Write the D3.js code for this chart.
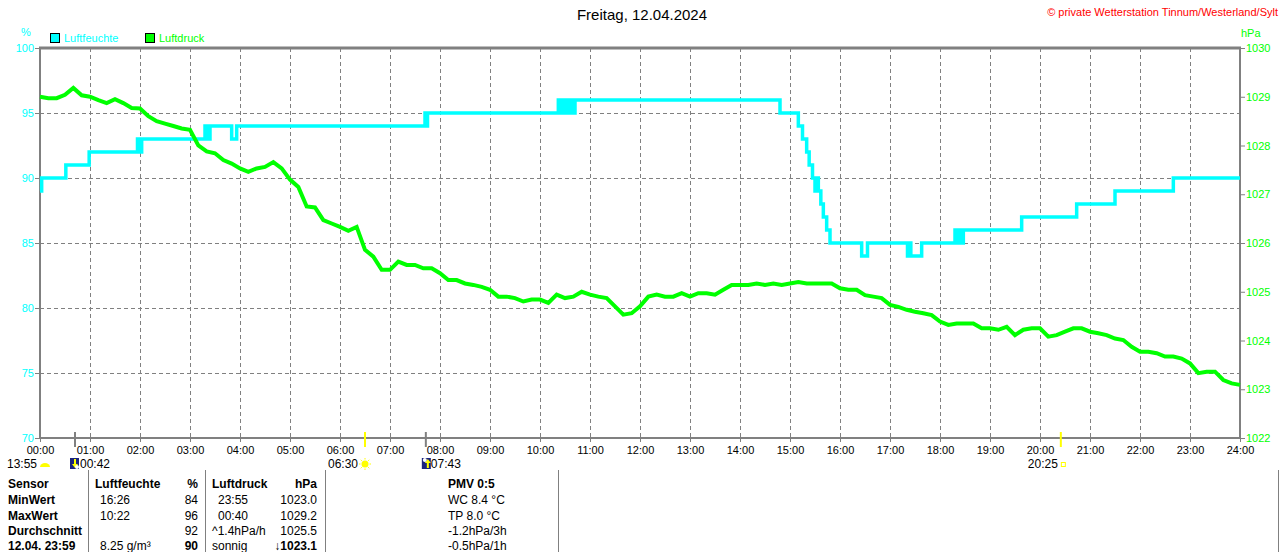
<!DOCTYPE html>
<html>
<head>
<meta charset="utf-8">
<script src="https://cdn.jsdelivr.net/npm/d3@7"></script>
<style>
  body { margin: 0; background: #fff; }
  svg text { font-family: "Liberation Sans", Arial, sans-serif; }
</style>
</head>
<body>
<div id="chart"></div>
<script>
// Tageskurve Luftfeuchte / Luftdruck, 12.04.2024

const title = 'Freitag, 12.04.2024';
const copyright = '\u00A9 private Wetterstation Tinnum/Westerland/Sylt';

// x axis: minutes of the day
const hourTicks = d3.range(0, 1441, 60);
const hourLabels = ['00:00','01:00','02:00','03:00','04:00','05:00','06:00','07:00','08:00','09:00','10:00','11:00',
  '12:00','13:00','14:00','15:00','16:00','17:00','18:00','19:00','20:00','21:00','22:00','23:00','24:00'];

const humTicks = [70, 75, 80, 85, 90, 95, 100];
const pressTicks = [1022, 1023, 1024, 1025, 1026, 1027, 1028, 1029, 1030];

// Luftfeuchte (%) — change points [minute, value]
const humTimes = [0, 2, 31, 59, 117, 118, 119, 121, 122, 198, 199, 201, 203, 204, 230, 236, 462, 463, 465,
  622, 624, 626, 628, 631, 634, 638, 640, 642, 888, 910, 915, 920, 923, 927, 930, 932, 934, 937, 940, 944, 948,
  986, 993, 1041, 1043, 1045, 1058, 1098, 1101, 1104, 1106, 1108, 1178, 1244, 1290, 1360, 1440];
const humValues = [89, 90, 91, 92, 93, 92, 93, 92, 93, 94, 93, 94, 93, 94, 93, 94, 95, 94, 95,
  96, 95, 96, 95, 96, 95, 96, 95, 96, 95, 94, 93, 92, 91, 90, 89, 90, 89, 88, 87, 86, 85,
  84, 85, 84, 85, 84, 85, 86, 85, 86, 85, 86, 87, 88, 89, 90, 90];

// Luftdruck (hPa) — every 10 minutes from 00:00 to 24:00
const pressStep = 10;
const pressValues = [
  1029.00, 1028.97, 1028.97, 1029.04, 1029.18, 1029.03, 1029.00, 1028.93, 1028.87, 1028.95, 1028.87, 1028.77,
  1028.76, 1028.60, 1028.50, 1028.45, 1028.40, 1028.35, 1028.32, 1028.00, 1027.88, 1027.84, 1027.70, 1027.63,
  1027.53, 1027.46, 1027.53, 1027.56, 1027.66, 1027.53, 1027.30, 1027.15, 1026.75, 1026.73, 1026.47, 1026.40,
  1026.33, 1026.25, 1026.33, 1025.86, 1025.72, 1025.45, 1025.45, 1025.62, 1025.55, 1025.55, 1025.48, 1025.48,
  1025.38, 1025.24, 1025.24, 1025.17, 1025.14, 1025.10, 1025.04, 1024.90, 1024.90, 1024.87, 1024.80, 1024.84,
  1024.84, 1024.77, 1024.94, 1024.87, 1024.90, 1025.00, 1024.94, 1024.90, 1024.87, 1024.70, 1024.53, 1024.56,
  1024.70, 1024.90, 1024.94, 1024.90, 1024.90, 1024.97, 1024.90, 1024.97, 1024.97, 1024.94, 1025.04, 1025.14,
  1025.14, 1025.14, 1025.17, 1025.14, 1025.17, 1025.14, 1025.17, 1025.20, 1025.17, 1025.17, 1025.17, 1025.17,
  1025.07, 1025.04, 1025.04, 1024.93, 1024.90, 1024.87, 1024.73, 1024.69, 1024.63, 1024.59, 1024.56, 1024.52,
  1024.39, 1024.32, 1024.35, 1024.35, 1024.35, 1024.25, 1024.25, 1024.22, 1024.28, 1024.11, 1024.22, 1024.25,
  1024.25, 1024.08, 1024.11, 1024.18, 1024.25, 1024.25, 1024.18, 1024.15, 1024.11, 1024.04, 1024.01, 1023.87,
  1023.77, 1023.77, 1023.74, 1023.67, 1023.67, 1023.63, 1023.53, 1023.33, 1023.36, 1023.36, 1023.19, 1023.12,
  1023.09
];

// Sonne / Mond (minutes)
const sunrise = 390, sunset = 1225;
const moonrise = 42, moonset = 463;

// Tabelle
const tableHeader = ['Sensor', 'Luftfeuchte', '%', 'Luftdruck', 'hPa', 'PMV 0:5'];
const rowLabels = ['MinWert', 'MaxWert', 'Durchschnitt', '12.04. 23:59'];
const humTimesCol = ['16:26', '10:22', '', '8.25 g/m\u00B3'];
const humValCol = ['84', '96', '92', '90'];
const pressTimesCol = ['23:55', '00:40', '^1.4hPa/h', 'sonnig'];
const pressValCol = ['1023.0', '1029.2', '1025.5', '\u21931023.1'];
const extraCol = ['WC 8.4 \u00B0C', 'TP 8.0 \u00B0C', '-1.2hPa/3h', '-0.5hPa/1h'];

const CYAN = '#00ffff', GREEN = '#00ff00', GRID = '#808080';

const svg = d3.select('#chart').append('svg')
  .attr('width', 1280).attr('height', 552);

const x = d3.scaleLinear().domain([0, 1440]).range([40, 1240]);
const yH = d3.scaleLinear().domain([70, 100]).range([438, 48]);
const yP = d3.scaleLinear().domain([1022, 1030]).range([438, 48]);

// title + copyright
svg.append('text').attr('x', 642).attr('y', 20).attr('text-anchor', 'middle')
  .style('font-size', '15px').style('fill', '#000').text(title);
svg.append('text').attr('x', 1278).attr('y', 16).attr('text-anchor', 'end')
  .style('font-size', '11px').style('fill', '#ff0000').text(copyright);

// units + legend
svg.append('text').attr('x', 26).attr('y', 36).attr('text-anchor', 'middle')
  .style('font-size', '11px').style('fill', CYAN).text('%');
svg.append('text').attr('x', 1241).attr('y', 37)
  .style('font-size', '11px').style('fill', GREEN).text('hPa');

const legend = [{ name: 'Luftfeuchte', color: CYAN, x: 50 }, { name: 'Luftdruck', color: GREEN, x: 145 }];
legend.forEach(l => {
  svg.append('rect').attr('x', l.x + 0.5).attr('y', 33.5).attr('width', 9).attr('height', 9)
    .attr('fill', l.color).attr('stroke', '#000');
  svg.append('text').attr('x', l.x + 14).attr('y', 42)
    .style('font-size', '11px').style('fill', l.color).text(l.name);
});

// grid
const grid = svg.append('g');
grid.selectAll('.vg').data(hourTicks.slice(1, -1)).join('line')
  .attr('x1', d => x(d) + 0.5).attr('x2', d => x(d) + 0.5)
  .attr('y1', yH(100)).attr('y2', yH(70))
  .attr('stroke', GRID).attr('stroke-dasharray', '4,3');
grid.selectAll('.hg').data(humTicks.slice(1, -1)).join('line')
  .attr('x1', x(0)).attr('x2', x(1440))
  .attr('y1', d => yH(d) + 0.5).attr('y2', d => yH(d) + 0.5)
  .attr('stroke', GRID).attr('stroke-dasharray', '4,3');

// axes
const axL = svg.append('g').attr('transform', `translate(${x(0)},0)`)
  .call(d3.axisLeft(yH).tickValues(humTicks).tickSize(5).tickPadding(1));
axL.select('.domain').remove();
axL.selectAll('line').attr('stroke', GRID);
axL.selectAll('text').style('font-size', '11px').style('fill', CYAN);

const axR = svg.append('g').attr('transform', `translate(${x(1440)},0)`)
  .call(d3.axisRight(yP).tickValues(pressTicks).tickSize(5).tickPadding(1).tickFormat(d3.format('d')));
axR.select('.domain').remove();
axR.selectAll('line').attr('stroke', GRID);
axR.selectAll('text').style('font-size', '11px').style('fill', GREEN);

const axB = svg.append('g').attr('transform', `translate(0,${yH(70)})`)
  .call(d3.axisBottom(x).tickValues(hourTicks).tickSize(4).tickPadding(4)
    .tickFormat((d, i) => hourLabels[i]));
axB.select('.domain').remove();
axB.selectAll('line').attr('stroke', GRID);
axB.selectAll('text').style('font-size', '11px').style('fill', '#000');

// frame
const frame = svg.append('g').attr('stroke', GRID).attr('fill', 'none');
frame.append('line').attr('x1', x(0) - 1).attr('x2', x(1440) + 1).attr('y1', yH(100)).attr('y2', yH(100)).attr('stroke-width', 3);
frame.append('line').attr('x1', x(0) - 1).attr('x2', x(1440) + 1).attr('y1', yH(70)).attr('y2', yH(70)).attr('stroke-width', 2);
frame.append('line').attr('x1', x(0)).attr('x2', x(0)).attr('y1', yH(100)).attr('y2', yH(70)).attr('stroke-width', 2);
frame.append('line').attr('x1', x(1440)).attr('x2', x(1440)).attr('y1', yH(100)).attr('y2', yH(70)).attr('stroke-width', 2);

// series
const humData = humTimes.map((t, i) => ({ t, v: humValues[i] }));
const pressData = pressValues.map((v, i) => ({ t: i * pressStep, v }));

svg.append('path').datum(humData)
  .attr('d', d3.line().x(d => x(d.t)).y(d => yH(d.v)).curve(d3.curveStepAfter))
  .attr('fill', 'none').attr('stroke', CYAN).attr('stroke-width', 3.5);

svg.append('path').datum(pressData)
  .attr('d', d3.line().x(d => x(d.t)).y(d => yP(d.v)))
  .attr('fill', 'none').attr('stroke', GREEN).attr('stroke-width', 4)
  .attr('stroke-linejoin', 'miter');

// sun / moon markers on the time axis
const markers = [
  { t: sunrise, color: '#ffff00' }, { t: sunset, color: '#ffff00' },
  { t: moonrise, color: GRID }, { t: moonset, color: GRID }
];
svg.append('g').selectAll('line').data(markers).join('line')
  .attr('x1', d => x(d.t)).attr('x2', d => x(d.t))
  .attr('y1', yH(70) - 6).attr('y2', yH(70) + 9)
  .attr('stroke', d => d.color).attr('stroke-width', 2);

const fmt = m => d3.format('02')(Math.floor(m / 60)) + ':' + d3.format('02')(m % 60);
const evY = 468;
const ev = svg.append('g').style('font-size', '12px').style('fill', '#000');

// moon phase (left)
ev.append('text').attr('x', 37).attr('y', evY).attr('text-anchor', 'end').text('13:55');
ev.append('path').attr('d', 'M40,467 A5,4 0 0 1 50,467 Z').attr('fill', '#ffff00');

// moonrise
const mrx = x(moonrise);
ev.append('rect').attr('x', mrx - 5).attr('y', 458).attr('width', 9).attr('height', 11).attr('fill', '#1a237e');
ev.append('path').attr('d', `M${mrx - 1},459 L${mrx - 1},464 L${mrx - 3},464 L${mrx},468 L${mrx + 3},464 L${mrx + 1},464 L${mrx + 1},459 Z`).attr('fill', '#ffff00');
ev.append('circle').attr('cx', mrx + 2).attr('cy', 467).attr('r', 2).attr('fill', '#fff');
ev.append('text').attr('x', mrx + 5).attr('y', evY).text(fmt(moonrise));

// sunrise
const srx = x(sunrise);
ev.append('text').attr('x', srx - 7).attr('y', evY).attr('text-anchor', 'end').text(fmt(sunrise));
ev.append('circle').attr('cx', srx).attr('cy', 464).attr('r', 3.5).attr('fill', '#ffff00');
d3.range(0, 360, 45).forEach(a => {
  const r = a * Math.PI / 180;
  ev.append('line').attr('x1', srx + Math.cos(r) * 4.5).attr('y1', 464 + Math.sin(r) * 4.5)
    .attr('x2', srx + Math.cos(r) * 6).attr('y2', 464 + Math.sin(r) * 6)
    .attr('stroke', '#ffff00').attr('stroke-width', 1);
});

// moonset
const msx = x(moonset);
ev.append('rect').attr('x', msx - 4).attr('y', 458).attr('width', 9).attr('height', 11).attr('fill', '#1a237e');
ev.append('path').attr('d', `M${msx + 1},468 L${msx + 1},463 L${msx - 1},463 L${msx + 2},459 L${msx + 5},463 L${msx + 3},463 L${msx + 3},468 Z`).attr('fill', '#ffff00');
ev.append('circle').attr('cx', msx - 1).attr('cy', 460).attr('r', 2).attr('fill', '#fff');
ev.append('text').attr('x', msx + 5).attr('y', evY).text(fmt(moonset));

// sunset
const ssx = x(sunset);
ev.append('text').attr('x', ssx - 3).attr('y', evY).attr('text-anchor', 'end').text(fmt(sunset));
ev.append('rect').attr('x', ssx + 0.5).attr('y', 462.5).attr('width', 4).attr('height', 4)
  .attr('fill', 'none').attr('stroke', '#ffff00');

// table separators
const seps = [88, 205, 325, 558, 1278];
svg.append('g').selectAll('line').data(seps).join('line')
  .attr('x1', d => d + 0.5).attr('x2', d => d + 0.5).attr('y1', 470).attr('y2', 552)
  .attr('stroke', GRID);

// table text
const tbl = svg.append('g').style('font-size', '12px').style('fill', '#000');
const rowY = [488, 504, 520, 535, 550];
const cell = (xp, y, txt, opt = {}) => tbl.append('text').attr('x', xp).attr('y', y)
  .attr('text-anchor', opt.end ? 'end' : 'start')
  .style('font-weight', opt.bold ? 'bold' : 'normal').text(txt);

cell(8, rowY[0], tableHeader[0], { bold: true });
cell(95, rowY[0], tableHeader[1], { bold: true });
cell(198, rowY[0], tableHeader[2], { bold: true, end: true });
cell(212, rowY[0], tableHeader[3], { bold: true });
cell(317, rowY[0], tableHeader[4], { bold: true, end: true });
cell(448, rowY[0], tableHeader[5], { bold: true });

rowLabels.forEach((r, i) => {
  const y = rowY[i + 1];
  const last = i === rowLabels.length - 1;
  cell(8, y, r, { bold: true });
  cell(100, y, humTimesCol[i]);
  cell(198, y, humValCol[i], { end: true, bold: last });
  cell(i < 2 ? 218 : 212, y, pressTimesCol[i]);
  cell(317, y, pressValCol[i], { end: true, bold: last });
  cell(448, y, extraCol[i]);
});
</script>
</body>
</html>
